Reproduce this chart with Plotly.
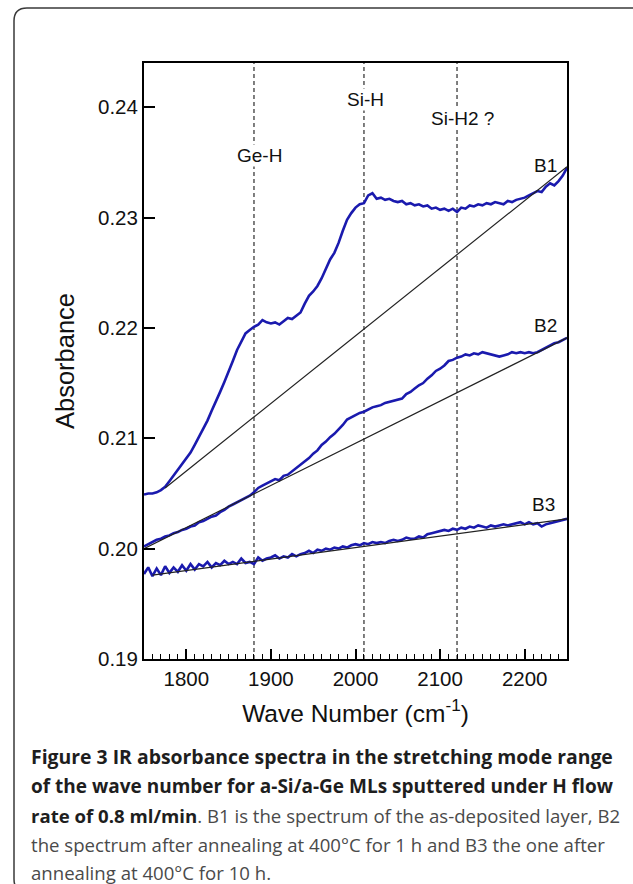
import plotly.graph_objects as go

# ---------------- data ----------------
wavenumber = list(range(1750, 2251, 5))

b1 = [0.2049, 0.2050, 0.2050, 0.2051, 0.2053, 0.2056, 0.2061, 0.2066, 0.2072, 0.2077,
      0.2082, 0.2087, 0.2094, 0.2101, 0.2108, 0.2116, 0.2125, 0.2133, 0.2142, 0.2151,
      0.2160, 0.2170, 0.2180, 0.2188, 0.2195, 0.2198, 0.2201, 0.2203, 0.2207, 0.2205,
      0.2204, 0.2205, 0.2203, 0.2206, 0.2209, 0.2208, 0.2211, 0.2214, 0.2222, 0.2229,
      0.2233, 0.2238, 0.2245, 0.2254, 0.2262, 0.2268, 0.2277, 0.2288, 0.2298, 0.2304,
      0.2309, 0.2312, 0.2313, 0.2320, 0.2322, 0.2317, 0.2318, 0.2316, 0.2317, 0.2315,
      0.2314, 0.2315, 0.2312, 0.2313, 0.2311, 0.2312, 0.2310, 0.2311, 0.2308, 0.2309,
      0.2307, 0.2308, 0.2306, 0.2308, 0.2305, 0.2309, 0.2308, 0.2311, 0.2310, 0.2312,
      0.2311, 0.2313, 0.2312, 0.2314, 0.2313, 0.2312, 0.2315, 0.2314, 0.2316, 0.2317,
      0.2318, 0.2320, 0.2322, 0.2324, 0.2323, 0.2328, 0.2331, 0.2329, 0.2333, 0.2338,
      0.2345]

b2 = [0.2002, 0.2004, 0.2006, 0.2008, 0.2009, 0.2011, 0.2012, 0.2014, 0.2015, 0.2017,
      0.2018, 0.2020, 0.2021, 0.2024, 0.2025, 0.2027, 0.2029, 0.2030, 0.2033, 0.2035,
      0.2038, 0.2040, 0.2042, 0.2044, 0.2046, 0.2048, 0.2051, 0.2055, 0.2057, 0.2059,
      0.2061, 0.2063, 0.2062, 0.2066, 0.2067, 0.2070, 0.2073, 0.2076, 0.2079, 0.2082,
      0.2086, 0.2089, 0.2094, 0.2097, 0.2101, 0.2104, 0.2108, 0.2112, 0.2117, 0.2119,
      0.2121, 0.2123, 0.2124, 0.2126, 0.2128, 0.2129, 0.2130, 0.2132, 0.2133, 0.2134,
      0.2135, 0.2136, 0.2140, 0.2142, 0.2145, 0.2148, 0.2150, 0.2154, 0.2157, 0.2161,
      0.2163, 0.2166, 0.2170, 0.2171, 0.2173, 0.2174, 0.2176, 0.2175, 0.2177, 0.2176,
      0.2178, 0.2177, 0.2176, 0.2175, 0.2174, 0.2175, 0.2176, 0.2178, 0.2177, 0.2178,
      0.2177, 0.2178, 0.2177, 0.2178, 0.2180, 0.2182, 0.2184, 0.2186, 0.2187, 0.2189,
      0.2191]

b3 = [0.1977, 0.1983, 0.1975, 0.1982, 0.1976, 0.1984, 0.1978, 0.1983, 0.1979, 0.1985,
      0.1980, 0.1986, 0.1981, 0.1986, 0.1984, 0.1988, 0.1983, 0.1987, 0.1985, 0.1989,
      0.1986, 0.1988, 0.1986, 0.1991, 0.1987, 0.1988, 0.1986, 0.1992, 0.1989, 0.1991,
      0.1992, 0.1994, 0.1991, 0.1993, 0.1992, 0.1995, 0.1993, 0.1995, 0.1996, 0.1998,
      0.1996, 0.1999, 0.1998, 0.2000, 0.1999, 0.2001, 0.2000, 0.2002, 0.2001, 0.2003,
      0.2004, 0.2003, 0.2005, 0.2004, 0.2006, 0.2005, 0.2006, 0.2005, 0.2007, 0.2008,
      0.2007, 0.2008, 0.2010, 0.2009, 0.2009, 0.2011, 0.2010, 0.2013, 0.2014, 0.2015,
      0.2016, 0.2017, 0.2016, 0.2018, 0.2017, 0.2019, 0.2018, 0.2020, 0.2019, 0.2021,
      0.2020, 0.2019, 0.2021, 0.2020, 0.2021, 0.2022, 0.2021, 0.2022, 0.2023, 0.2024,
      0.2022, 0.2024, 0.2022, 0.2023, 0.2020, 0.2022, 0.2023, 0.2024, 0.2025, 0.2026,
      0.2027]

b1_base_x = [1775, 2250]
b1_base_y = [0.2055, 0.2346]
b2_base_x = [1750, 2250]
b2_base_y = [0.2000, 0.2191]
b3_base_x = [1760, 2250]
b3_base_y = [0.1976, 0.2027]

curve_names = ["B1", "B2", "B3"]
peak_positions = [1880, 2010, 2120]
peak_labels = ["Ge-H", "Si-H", "Si-H2 ?"]

x_ticks = [1800, 1900, 2000, 2100, 2200]
y_ticks = [0.19, 0.20, 0.21, 0.22, 0.23, 0.24]

caption_bold = [
    "Figure 3 IR absorbance spectra in the stretching mode range",
    "of the wave number for a-Si/a-Ge MLs sputtered under H flow",
    "rate of 0.8 ml/min",
    "",
    "",
]
caption_plain = [
    "",
    "",
    ". B1 is the spectrum of the as-deposited layer, B2",
    "the spectrum after annealing at 400\u00b0C for 1 h and B3 the one after",
    "annealing at 400\u00b0C for 10 h.",
]

# ---------------- layout geometry (pixels) ----------------
W, H = 633, 884
L, R, T, B = 144, 567, 63, 659


def px(xp):
    return (xp - L) / (R - L)


def py(yp):
    return (B - yp) / (B - T)


BLUE = "#1a1aae"
FONT = "Liberation Sans, Arial, Helvetica, sans-serif"
CAPFONT = "Open Sans, Noto Sans, sans-serif"

fig = go.Figure()

series = [b1, b2, b3]
bases = [(b1_base_x, b1_base_y), (b2_base_x, b2_base_y), (b3_base_x, b3_base_y)]

for name, ys in zip(curve_names, series):
    fig.add_trace(go.Scatter(x=wavenumber, y=ys, mode="lines", name=name,
                             line=dict(color=BLUE, width=2.6), showlegend=False))
for name, (bx, by) in zip(curve_names, bases):
    fig.add_trace(go.Scatter(x=bx, y=by, mode="lines", name=name + " baseline",
                             line=dict(color="#222222", width=1.2), showlegend=False))

shapes = []
for p in peak_positions:
    shapes.append(dict(type="line", xref="x", yref="paper", x0=p, x1=p, y0=0, y1=1,
                       line=dict(color="#555555", width=1.5, dash="4px,3px"),
                       layer="below"))

# rounded outer border
x0, x1 = px(14), px(660)
y0, y1 = py(8), py(892)
rx, ry = 13 / (R - L), 13 / (B - T)
path = (f"M {x0+rx},{y0} L {x1-rx},{y0} Q {x1},{y0} {x1},{y0-ry} "
        f"L {x1},{y1+ry} Q {x1},{y1} {x1-rx},{y1} L {x0+rx},{y1} "
        f"Q {x0},{y1} {x0},{y1+ry} L {x0},{y0-ry} Q {x0},{y0} {x0+rx},{y0} Z")
shapes.append(dict(type="path", xref="paper", yref="paper", path=path,
                   line=dict(color="#3a3a3a", width=1.5), fillcolor="rgba(0,0,0,0)"))

annotations = []
peak_label_px = [(259, 155), (365, 99), (462, 119)]
for lab, (ax_, ay_) in zip(peak_labels, peak_label_px):
    annotations.append(dict(x=px(ax_), y=py(ay_), xref="paper", yref="paper",
                            text=lab, showarrow=False, xanchor="center", yanchor="middle",
                            bgcolor="white", borderpad=0,
                            font=dict(family=FONT, size=19, color="#111111")))
curve_label_px = [(545, 165), (545, 325), (543, 504)]
for lab, (ax_, ay_) in zip(curve_names, curve_label_px):
    annotations.append(dict(x=px(ax_), y=py(ay_), xref="paper", yref="paper",
                            text=lab, showarrow=False, xanchor="center", yanchor="middle",
                            font=dict(family=FONT, size=19, color="#111111")))

cap_y = [756, 786, 815, 844, 872]
cap_size = [19.4, 19.0, 18.6, 18.6, 18.6]
for bold, plain, yy, sz in zip(caption_bold, caption_plain, cap_y, cap_size):
    txt = ""
    if bold:
        txt += f"<b><span style='color:#1e1e1e'>{bold}</span></b>"
    if plain:
        txt += plain
    annotations.append(dict(x=px(30), y=py(yy), xref="paper", yref="paper",
                            text=txt, showarrow=False, xanchor="left", yanchor="middle",
                            borderpad=0,
                            font=dict(family=CAPFONT, size=sz, color="#4a4a4a")))

fig.update_layout(
    width=W, height=H, autosize=False,
    margin=dict(l=L, r=W - R, t=T, b=H - B, pad=0),
    paper_bgcolor="white", plot_bgcolor="white",
    shapes=shapes, annotations=annotations,
    font=dict(family=FONT, color="#111111"),
)

fig.update_xaxes(
    range=[1750, 2250], tickvals=x_ticks, ticktext=[str(v) for v in x_ticks],
    ticks="inside", ticklen=10, tickwidth=1.5, tickcolor="black",
    showline=True, linecolor="black", linewidth=2, mirror=True,
    showgrid=False, zeroline=False,
    minor=dict(ticks="inside", tick0=1750, dtick=10, ticklen=5, tickwidth=1.2,
               tickcolor="black", showgrid=False),
    tickfont=dict(family=FONT, size=20.5, color="#111111"),
    title=dict(text="Wave Number (cm<sup>-1</sup>)", standoff=16,
               font=dict(family=FONT, size=24.5, color="#111111")),
)
fig.update_yaxes(
    range=[0.19, 0.244], tickvals=y_ticks, ticktext=[f"{v:.2f}" for v in y_ticks],
    ticks="inside", ticklen=11, tickwidth=1.8, tickcolor="black",
    showline=True, linecolor="black", linewidth=2, mirror=True,
    showgrid=False, zeroline=False,
    tickfont=dict(family=FONT, size=20.5, color="#111111"),
    title=dict(text="Absorbance", standoff=16,
               font=dict(family=FONT, size=25.5, color="#111111")),
)

fig.write_html("out.html")
